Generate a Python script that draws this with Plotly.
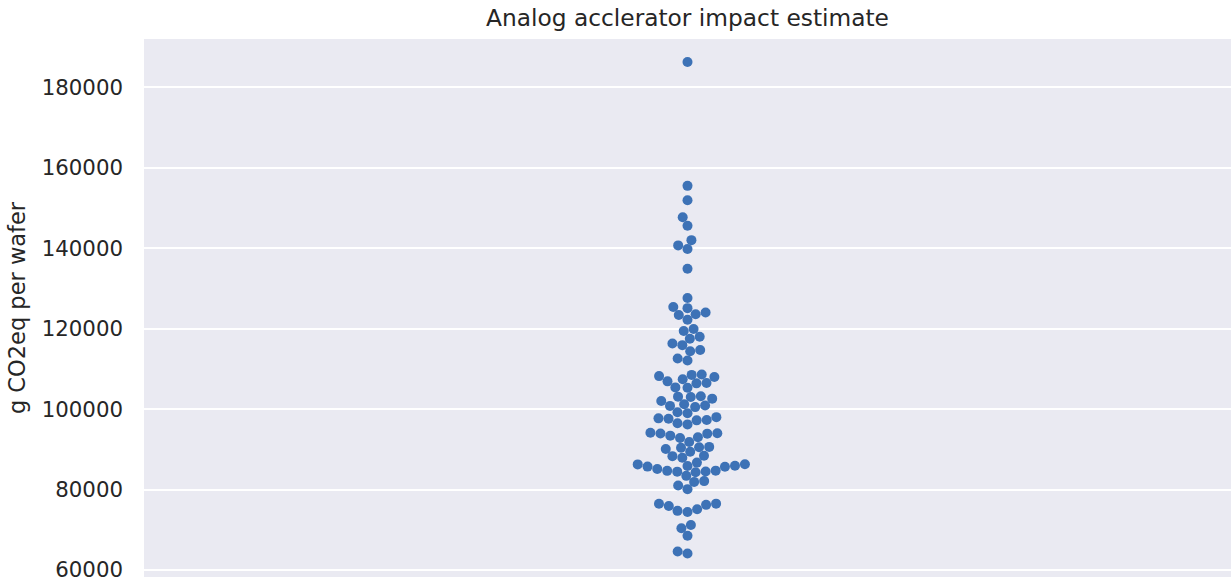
import numpy as np
import plotly.graph_objects as go

# g CO2eq per wafer, one value per sample
impact_values = [
    186300, 155500, 151900, 147700, 145600, 142000, 140700, 139800, 134900, 127600,
    125400, 125100, 124000, 123600, 123400, 122200, 119900, 119400, 118000, 117500,
    116300, 115900, 114700, 114400, 112600, 112100, 108600, 108500, 108200, 108000,
    107400, 106900, 106500, 106400, 105400, 105300, 103200, 103100, 103000, 102600,
    102000, 101200, 100900, 100800, 100500, 99200, 98950, 98000, 97700, 97600,
    97300, 97200, 96500, 96200, 94100, 94000, 93950, 93900, 93400, 93000,
    92800, 91800, 90600, 90500, 90400, 90100, 89400, 88400, 88300, 87900,
    86700, 86300, 86250, 85850, 85900, 85700, 85650, 85100, 84700, 84650,
    84500, 84450, 84300, 83400, 82100, 81900, 81000, 80100, 76500, 76450,
    76200, 75900, 75100, 74700, 74400, 71200, 70400, 68500, 64600, 64100,
]
y_ticks = [60000, 80000, 100000, 120000, 140000, 160000, 180000]

# layout constants
W, H = 1231, 583
ML, MR, MT, MB = 144, 0, 39, 6
Y_RANGE = [58260, 192007]
X_RANGE = [-0.5, 0.5]
MARKER_D = 9.6  # px

plot_w = W - ML - MR
plot_h = H - MT - MB


def beeswarm_offsets(values, radius):
    """seaborn-like beeswarm in pixel space; returns x offsets in px."""
    vals = np.asarray(values, dtype=float)
    ypx = (vals - Y_RANGE[0]) / (Y_RANGE[1] - Y_RANGE[0]) * plot_h
    order = np.argsort(ypx, kind="stable")
    swarm = []  # list of (x, y, r)
    placed = np.zeros(len(vals))
    for idx in order:
        y_i, r_i = ypx[idx], radius
        if not swarm:
            swarm.append((0.0, y_i, r_i))
            placed[idx] = 0.0
            continue
        neighbors = []
        for x_j, y_j, r_j in reversed(swarm):
            if (y_i - y_j) < (r_i + r_j):
                neighbors.append((x_j, y_j, r_j))
            else:
                break
        cands = [(0.0, y_i, r_i)]
        left_first = True
        for x_j, y_j, r_j in neighbors:
            dy = y_i - y_j
            dx = np.sqrt(max((r_i + r_j) ** 2 - dy ** 2, 0)) * 1.05
            cl, cr = (x_j - dx, y_i, r_i), (x_j + dx, y_i, r_i)
            cands.extend([cl, cr] if left_first else [cr, cl])
            left_first = not left_first
        cands = np.array(cands)
        cands = cands[np.argsort(np.abs(cands[:, 0]), kind="stable")]
        chosen = cands[0]
        if neighbors:
            nb = np.array(neighbors)
            for c in cands:
                d2 = (nb[:, 0] - c[0]) ** 2 + (nb[:, 1] - c[1]) ** 2
                if np.all(d2 >= (nb[:, 2] + c[2]) ** 2):
                    chosen = c
                    break
        swarm.append(tuple(chosen))
        placed[idx] = chosen[0]
    return placed


offsets_px = beeswarm_offsets(impact_values, MARKER_D / 2)
x_data = offsets_px / plot_w * (X_RANGE[1] - X_RANGE[0])

text_color = "#262626"
font_family = "DejaVu Sans"

fig = go.Figure()
fig.add_trace(
    go.Scatter(
        x=x_data,
        y=impact_values,
        mode="markers",
        marker=dict(size=10, color="#3d72b6", line=dict(width=0)),
        hoverinfo="y",
        showlegend=False,
    )
)

fig.update_layout(
    width=W,
    height=H,
    margin=dict(l=ML, r=MR, t=MT, b=MB, autoexpand=False),
    paper_bgcolor="white",
    plot_bgcolor="#EAEAF2",
    font=dict(family=font_family, color=text_color, size=21),
    title=dict(
        text="Analog acclerator impact estimate",
        x=(ML + plot_w / 2) / W,
        xanchor="center",
        y=1 - 17.5 / H,
        yanchor="middle",
        font=dict(size=23.3, color=text_color, family=font_family),
    ),
    xaxis=dict(
        range=X_RANGE,
        showgrid=False,
        zeroline=False,
        showticklabels=False,
        ticks="",
        showline=False,
        fixedrange=True,
    ),
    yaxis=dict(
        range=Y_RANGE,
        tickvals=y_ticks,
        ticktext=[str(v) for v in y_ticks],
        showgrid=True,
        gridcolor="white",
        gridwidth=2,
        zeroline=False,
        showline=False,
        ticks="",
        ticklabelstandoff=20,
        tickfont=dict(size=21.3, color=text_color, family=font_family),
        title=dict(
            text="g CO2eq per wafer",
            standoff=9,
            font=dict(size=22.5, color=text_color, family=font_family),
        ),
        automargin=False,
    ),
)

fig.write_html("out.html")
